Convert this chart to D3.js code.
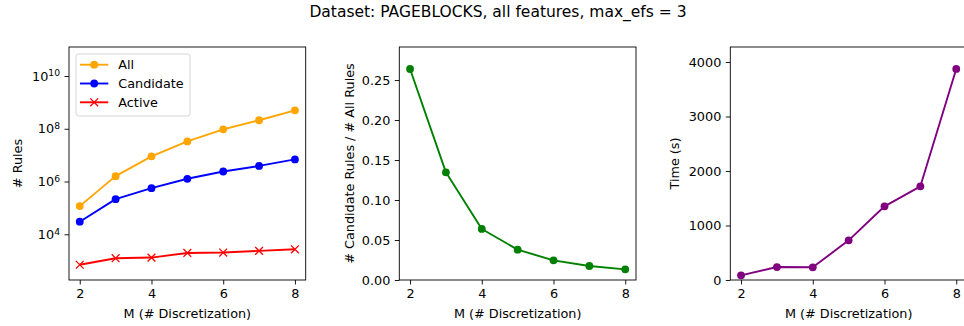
<!DOCTYPE html>
<html>
<head>
<meta charset="utf-8">
<script src="https://cdn.jsdelivr.net/npm/d3@7"></script>
<style>
  html, body { margin: 0; padding: 0; background: #fff; }
  svg { display: block; font-family: "DejaVu Sans", sans-serif; }
</style>
</head>
<body>
<svg id="chart" width="964" height="326"></svg>
<script>
// Number of discretization bins M
const mValues = [2, 3, 4, 5, 6, 7, 8];

// Rule counts per M
const allRules       = [1.17e5, 1.6e6, 9.0e6, 3.3e7, 9.5e7, 2.1e8, 5.0e8];
const candidateRules = [3.0e4, 2.15e5, 5.6e5, 1.27e6, 2.4e6, 3.9e6, 6.9e6];
const activeRules    = [700, 1240, 1310, 1960, 2030, 2350, 2700];

// Ratio of candidate rules to all rules
const candidateRatio = [0.2638, 0.1346, 0.0638, 0.0379, 0.0246, 0.0175, 0.0133];

// Running time in seconds
const timeSeconds = [86, 238, 233, 728, 1352, 1719, 3872];

// Tick labels
const xTicks = [2, 4, 6, 8];
const rulesTickExponents = [4, 6, 8, 10];
const ratioTicks = [0, 0.05, 0.10, 0.15, 0.20, 0.25];
const timeTicks = [0, 1000, 2000, 3000, 4000];

const titleText = "Dataset: PAGEBLOCKS, all features, max_efs = 3";
const xLabel = "M (# Discretization)";

const svg = d3.select("#chart");
const TICK_FONT = 12.8;
const LABEL_FONT = 12.8;
const TICK_LEN = 4.5;
const TICK_PAD = 4.5;

svg.append("text")
  .attr("x", 498).attr("y", 17)
  .attr("text-anchor", "middle")
  .attr("font-size", 15.5)
  .attr("fill", "#000")
  .text(titleText);

const plotTop = 47, plotBottom = 280, panelW = 236.7;
const panelLefts = [69, 399.3, 730.3];

function makeX(left) {
  return d3.scaleLinear().domain([1.7, 8.3]).range([left, left + panelW]);
}

function drawFrame(g, left) {
  g.append("rect")
    .attr("x", left).attr("y", plotTop)
    .attr("width", panelW).attr("height", plotBottom - plotTop)
    .attr("fill", "none").attr("stroke", "#000").attr("stroke-width", 0.9);
}

function drawXAxis(g, x) {
  const ax = g.append("g").attr("transform", `translate(0,${plotBottom})`)
    .call(d3.axisBottom(x).tickValues(xTicks).tickSize(TICK_LEN).tickPadding(TICK_PAD).tickFormat(d3.format("d")));
  ax.select(".domain").remove();
  ax.selectAll(".tick line").attr("stroke", "#000").attr("stroke-width", 0.9);
  ax.selectAll(".tick text").attr("font-size", TICK_FONT).attr("fill", "#000")
    .attr("font-family", "DejaVu Sans, sans-serif");
  const [a, b] = x.range();
  g.append("text")
    .attr("x", (a + b) / 2).attr("y", 318)
    .attr("text-anchor", "middle")
    .attr("font-size", LABEL_FONT)
    .text(xLabel);
}

function drawYAxis(g, y, left, ticks, fmt) {
  const ax = g.append("g").attr("transform", `translate(${left},0)`)
    .call(d3.axisLeft(y).tickValues(ticks).tickSize(TICK_LEN).tickPadding(TICK_PAD).tickFormat(fmt));
  ax.select(".domain").remove();
  ax.selectAll(".tick line").attr("stroke", "#000").attr("stroke-width", 0.9);
  ax.selectAll(".tick text").attr("font-size", TICK_FONT).attr("fill", "#000")
    .attr("font-family", "DejaVu Sans, sans-serif");
  return ax;
}

function yLabel(g, x, text) {
  g.append("text")
    .attr("transform", `translate(${x},${(plotTop + plotBottom) / 2}) rotate(-90)`)
    .attr("text-anchor", "middle")
    .attr("dy", "0.35em")
    .attr("font-size", LABEL_FONT)
    .text(text);
}

function drawSeries(g, x, y, values, color, marker) {
  const pts = mValues.map((m, i) => [x(m), y(values[i])]);
  g.append("path")
    .attr("d", d3.line()(pts))
    .attr("fill", "none").attr("stroke", color).attr("stroke-width", 1.9)
    .attr("stroke-linejoin", "round");
  if (marker === "o") {
    g.selectAll(null).data(pts).enter().append("circle")
      .attr("cx", d => d[0]).attr("cy", d => d[1]).attr("r", 3.9)
      .attr("fill", color);
  } else {
    const s = 3.9;
    g.selectAll(null).data(pts).enter().append("path")
      .attr("d", d => `M${d[0]-s},${d[1]-s}L${d[0]+s},${d[1]+s}M${d[0]-s},${d[1]+s}L${d[0]+s},${d[1]-s}`)
      .attr("stroke", color).attr("stroke-width", 1.3).attr("fill", "none");
  }
}

// Panel 1: rule counts on a log scale
{
  const g = svg.append("g");
  const left = panelLefts[0];
  const x = makeX(left);
  const y = d3.scaleLog().domain([Math.pow(10, 2.267), Math.pow(10, 11.1)]).range([plotBottom, plotTop]);
  drawXAxis(g, x);
  const ax = drawYAxis(g, y, left, rulesTickExponents.map(e => Math.pow(10, e)), () => "");
  ax.selectAll(".tick text").each(function(d) {
    const t = d3.select(this);
    const e = Math.round(Math.log10(d));
    t.append("tspan").text("10");
    t.append("tspan").attr("dy", "-0.45em").attr("font-size", TICK_FONT * 0.72).text(e);
  });
  yLabel(g, 18, "# Rules");
  drawSeries(g, x, y, allRules, "#ffa500", "o");
  drawSeries(g, x, y, candidateRules, "#0000ff", "o");
  drawSeries(g, x, y, activeRules, "#ff0000", "x");
  drawFrame(g, left);

  // Legend
  const lg = g.append("g");
  lg.append("rect")
    .attr("x", 76).attr("y", 54).attr("width", 114).attr("height", 62)
    .attr("rx", 2.5).attr("fill", "#fff").attr("fill-opacity", 0.8)
    .attr("stroke", "#d0d0d0").attr("stroke-width", 0.9);
  const entries = [
    { name: "All", color: "#ffa500", marker: "o" },
    { name: "Candidate", color: "#0000ff", marker: "o" },
    { name: "Active", color: "#ff0000", marker: "x" }
  ];
  entries.forEach((e, i) => {
    const cy = 64.7 + i * 18.8;
    lg.append("line").attr("x1", 80).attr("x2", 108.3).attr("y1", cy).attr("y2", cy)
      .attr("stroke", e.color).attr("stroke-width", 1.9);
    if (e.marker === "o") {
      lg.append("circle").attr("cx", 94.2).attr("cy", cy).attr("r", 3.9).attr("fill", e.color);
    } else {
      const s = 3.9;
      lg.append("path")
        .attr("d", `M${94.2-s},${cy-s}L${94.2+s},${cy+s}M${94.2-s},${cy+s}L${94.2+s},${cy-s}`)
        .attr("stroke", e.color).attr("stroke-width", 1.3);
    }
    lg.append("text").attr("x", 118.3).attr("y", cy).attr("dy", "0.35em")
      .attr("font-size", LABEL_FONT).text(e.name);
  });
}

// Panel 2: candidate / all ratio
{
  const g = svg.append("g");
  const left = panelLefts[1];
  const x = makeX(left);
  const y = d3.scaleLinear().domain([0, 0.2913]).range([plotBottom, plotTop]);
  drawXAxis(g, x);
  drawYAxis(g, y, left, ratioTicks, d3.format(".2f"));
  yLabel(g, 350, "# Candidate Rules / # All Rules");
  drawSeries(g, x, y, candidateRatio, "#008000", "o");
  drawFrame(g, left);
}

// Panel 3: running time
{
  const g = svg.append("g");
  const left = panelLefts[2];
  const x = makeX(left);
  const y = d3.scaleLinear().domain([0, 4275]).range([plotBottom, plotTop]);
  drawXAxis(g, x);
  drawYAxis(g, y, left, timeTicks, d3.format("d"));
  yLabel(g, 675, "Time (s)");
  drawSeries(g, x, y, timeSeconds, "#800080", "o");
  drawFrame(g, left);
}
</script>
</body>
</html>
